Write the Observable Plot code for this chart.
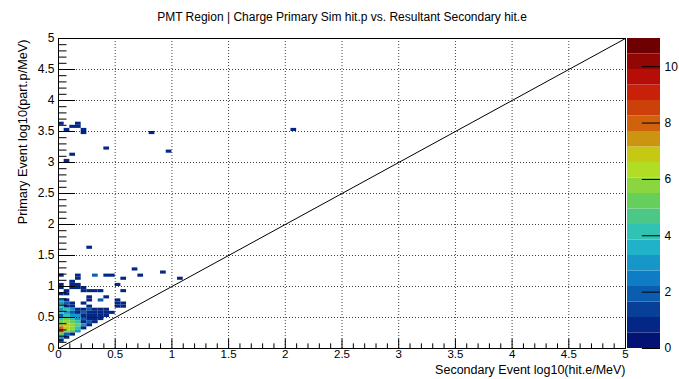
<!DOCTYPE html>
<html>
<head>
<meta charset="utf-8">
<script src="https://cdn.jsdelivr.net/npm/d3@7"></script>
<script src="https://cdn.jsdelivr.net/npm/@observablehq/plot@0.6"></script>
<style>
  html, body { margin: 0; padding: 0; background: #fff; }
  #chart { position: relative; width: 679px; height: 379px; }
  #chart svg { position: absolute; left: 0; top: 0; }
</style>
</head>
<body>
<div id="chart"></div>
<script>
// 2D histogram, 0.05 x 0.05 bins: lower bin edges and bin contents
const cellX = [
  0.00, 0.10, 0.15, 0.15, 0.05, 0.20, 0.20, 0.80, 2.05, 0.95, 0.40, 0.10, 0.05, 0.25,
  0.65, 0.90, 0.00, 0.15, 0.30, 0.40, 0.45, 0.70, 0.15, 0.55, 1.05, 0.10, 0.00, 0.10, 0.15, 0.50,
  0.10, 0.15, 0.00, 0.20, 0.05, 0.20, 0.25, 0.30, 0.35, 0.55, 0.00, 0.05, 0.25, 0.40, 0.25,
  0.00, 0.05, 0.35, 0.50,
  0.00, 0.05, 0.10, 0.20, 0.50, 0.55,
  0.00, 0.05, 0.10, 0.25, 0.50, 0.55,
  0.00, 0.05, 0.10, 0.15, 0.20, 0.25, 0.30, 0.35, 0.40,
  0.00, 0.05, 0.10, 0.15, 0.20, 0.25, 0.30, 0.35, 0.40, 0.45,
  0.00, 0.05, 0.10, 0.15, 0.20, 0.25, 0.30, 0.35, 0.40,
  0.00, 0.05, 0.10, 0.15, 0.20, 0.25, 0.30, 0.35,
  0.00, 0.05, 0.10, 0.15, 0.20, 0.25, 0.30,
  0.00, 0.05, 0.10, 0.15, 0.20, 0.25,
  0.00, 0.05, 0.10, 0.15, 0.20,
  0.00, 0.05, 0.10, 0.15,
  0.00, 0.05, 0.10,
  0.00, 0.05,
  0.00
];
const cellY = [
  3.60, 3.55, 3.55, 3.60, 3.50, 3.50, 3.45, 3.45, 3.50, 3.15, 3.20, 3.10, 3.00, 1.60,
  1.25, 1.20, 1.15, 1.15, 1.15, 1.15, 1.15, 1.15, 1.10, 1.10, 1.10, 1.05, 1.00, 1.00, 1.00, 1.00,
  0.95, 0.95, 0.95, 0.95, 0.90, 0.90, 0.90, 0.90, 0.90, 0.90, 0.85, 0.85, 0.80, 0.80, 0.75,
  0.75, 0.75, 0.75, 0.75,
  0.70, 0.70, 0.70, 0.70, 0.70, 0.70,
  0.65, 0.65, 0.65, 0.65, 0.65, 0.65,
  0.60, 0.60, 0.60, 0.60, 0.60, 0.60, 0.60, 0.60, 0.60,
  0.55, 0.55, 0.55, 0.55, 0.55, 0.55, 0.55, 0.55, 0.55, 0.55,
  0.50, 0.50, 0.50, 0.50, 0.50, 0.50, 0.50, 0.50, 0.50,
  0.45, 0.45, 0.45, 0.45, 0.45, 0.45, 0.45, 0.45,
  0.40, 0.40, 0.40, 0.40, 0.40, 0.40, 0.40,
  0.35, 0.35, 0.35, 0.35, 0.35, 0.35,
  0.30, 0.30, 0.30, 0.30, 0.30,
  0.25, 0.25, 0.25, 0.25,
  0.20, 0.20, 0.20,
  0.15, 0.15,
  0.10
];
const cellN = [
  1, 1, 1, 1, 1, 1, 1, 1, 1, 1, 1, 1, 1, 1,
  1, 1, 1, 1, 2, 1, 1, 1, 1, 1, 1, 1, 1, 1, 1, 1,
  1, 1, 1, 1, 1, 1, 1, 1, 1, 1, 1, 1, 1, 1, 1,
  3, 1, 2, 1,
  3, 2, 1, 1, 1, 1,
  4, 1, 1, 1, 1, 1,
  3, 4, 3, 1, 1, 2, 1, 1, 1,
  4, 3, 2, 1, 2, 1, 1, 1, 1, 1,
  2, 4, 3, 3, 1, 1, 1, 1, 1,
  4, 5, 4, 3, 2, 1, 1, 1,
  5, 6, 5, 4, 1, 2, 1,
  6, 7, 6, 5, 3, 1,
  8, 7, 6, 4, 1,
  9, 6, 5, 3,
  5, 2, 1,
  3, 1,
  1
];
const binW = 0.05;

// axis ticks and the palette range
const majorTicks = [0, 0.5, 1, 1.5, 2, 2.5, 3, 3.5, 4, 4.5, 5];
const minorTicks = d3.range(0, 51).map(k => k / 10).filter(v => Math.abs(v * 2 - Math.round(v * 2)) > 1e-6);
const zMax = 11;
const zTicks = [0, 2, 4, 6, 8, 10];
const nContours = 20;
const diagonal = [0, 5];

// rainbow palette (ROOT kRainBow stops)
const stops = [0, 0.125, 0.25, 0.375, 0.5, 0.625, 0.75, 0.875, 1];
const stopR = [0, 5, 15, 35, 102, 196, 208, 199, 110];
const stopG = [0, 48, 124, 192, 206, 226, 97, 16, 0];
const stopB = [99, 142, 198, 201, 90, 22, 13, 8, 2];
function palette(t) {
  let i = 0;
  while (i < stops.length - 2 && t > stops[i + 1]) i++;
  const u = (t - stops[i]) / (stops[i + 1] - stops[i]);
  const c = k => Math.round(k[i] + (k[i + 1] - k[i]) * u);
  return `rgb(${c(stopR)},${c(stopG)},${c(stopB)})`;
}
const step = zMax / nContours;
const bandColors = d3.range(nContours).map(k => palette(Math.min(1, (k + 0.99) / nContours)));
const thresholds = d3.range(1, nContours).map(k => k * step);
const colorScale = { type: "threshold", domain: thresholds, range: bandColors };

const cells = cellX.map((x, i) => ({ x, y: cellY[i], n: cellN[i] }));
const font = "'Liberation Sans', Arial, Helvetica, sans-serif";

const W = 679, H = 379;
const main = Plot.plot({
  width: W, height: H,
  marginLeft: 58, marginRight: 54, marginTop: 38, marginBottom: 31,
  style: { fontFamily: font, fontSize: "12px", background: "white", color: "black" },
  x: { domain: [0, 5] },
  y: { domain: [0, 5] },
  color: colorScale,
  marks: [
    Plot.rect(cells, { x1: "x", x2: d => d.x + binW, y1: "y", y2: d => d.y + binW, fill: "n" }),
    Plot.gridX(majorTicks.slice(1, -1), { stroke: "black", strokeOpacity: 0.75, strokeDasharray: "1,2" }),
    Plot.gridY(majorTicks.slice(1, -1), { stroke: "black", strokeOpacity: 0.75, strokeDasharray: "1,2" }),
    Plot.line(diagonal, { x: d => d, y: d => d, stroke: "black", strokeWidth: 1 }),
    // inward tick marks, ROOT style
    Plot.ruleX(majorTicks, { x: d => d, y1: 0, y2: 0.15, stroke: "black" }),
    Plot.ruleX(minorTicks, { x: d => d, y1: 0, y2: 0.075, stroke: "black" }),
    Plot.ruleY(majorTicks, { y: d => d, x1: 0, x2: 0.15, stroke: "black" }),
    Plot.ruleY(minorTicks, { y: d => d, x1: 0, x2: 0.075, stroke: "black" }),
    Plot.axisX(majorTicks, { tickSize: 0, tickPadding: 1, label: null, fontSize: 11.5, tickFormat: d3.format("~g") }),
    Plot.axisY(majorTicks, { tickSize: 0, tickPadding: 4, label: null, fontSize: 12, tickFormat: d3.format("~g") }),
    Plot.frame({ stroke: "black" }),
    Plot.text(["PMT Region | Charge Primary Sim hit.p vs. Resultant Secondary hit.e"], {
      frameAnchor: "top", dy: -26, fontSize: 12, text: d => d
    }),
    Plot.text(["Secondary Event log10(hit.e/MeV)"], {
      frameAnchor: "bottom-right", textAnchor: "end", dy: 25, fontSize: 12.5, text: d => d
    }),
    Plot.text(["Primary Event log10(part.p/MeV)"], {
      frameAnchor: "top-left", textAnchor: "end", rotate: -90, dx: -41, dy: 1, fontSize: 12.7, text: d => d
    })
  ]
});

// palette bar on the right
const bands = d3.range(nContours);
const pal = Plot.plot({
  width: W, height: H,
  marginLeft: 627, marginRight: 19, marginTop: 38, marginBottom: 31,
  style: { fontFamily: font, fontSize: "12px", background: "transparent", color: "black" },
  x: { domain: [0, 1], axis: null },
  y: { domain: [0, zMax], axis: null },
  color: colorScale,
  marks: [
    Plot.rect(bands, { x1: 0, x2: 1, y1: k => k * step, y2: k => (k + 1) * step, fill: k => (k + 0.5) * step }),
    Plot.ruleY(zTicks, { y: d => d, x1: 0.45, x2: 1, stroke: "black" }),
    Plot.text(zTicks, { x: 1, y: d => d, dx: 4, textAnchor: "start", fontSize: 12, text: d => String(d) })
  ]
});

const host = document.getElementById("chart");
host.append(main, pal);
</script>
</body>
</html>
